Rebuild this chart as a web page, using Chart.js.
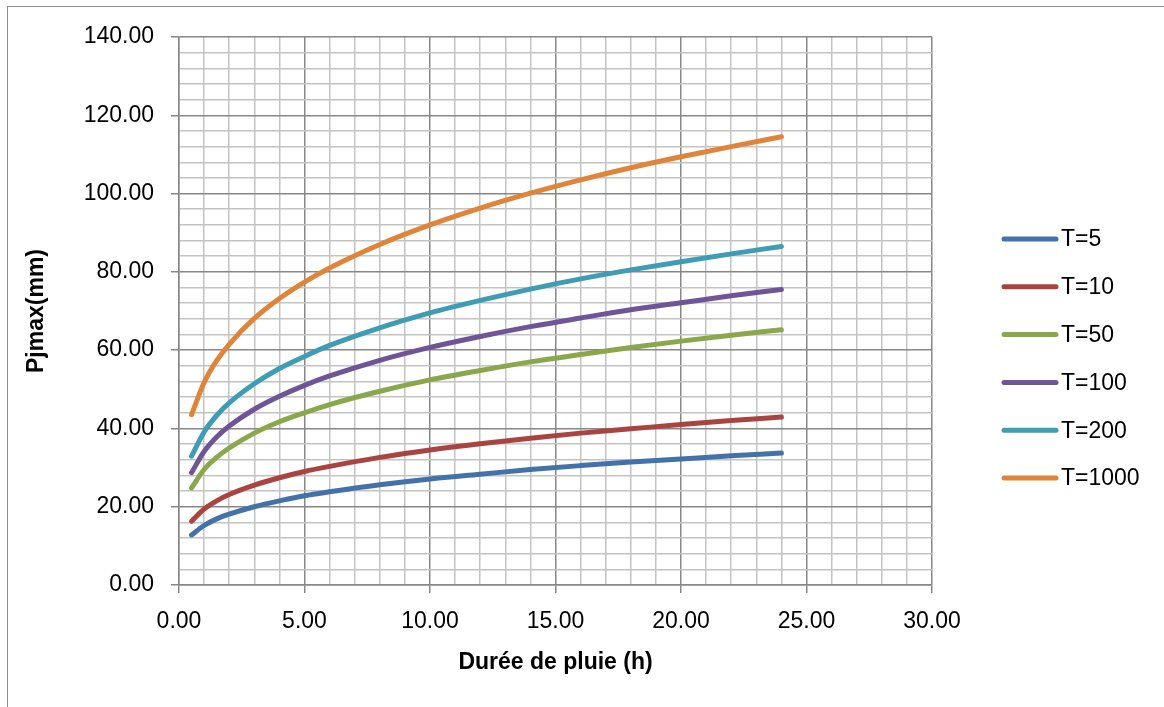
<!DOCTYPE html>
<html lang="fr">
<head>
<meta charset="utf-8" />
<title>Pjmax en fonction de la durée de pluie</title>
<script src="https://cdn.jsdelivr.net/npm/chart.js@4.4.1/dist/chart.umd.min.js"></script>
<style>
  html, body { margin: 0; padding: 0; background: #fff; overflow: hidden; }
  #wrap { position: relative; width: 1164px; height: 707px; }
</style>
</head>
<body>
<div id="wrap"><canvas id="c"></canvas></div>
<script>
// durées (h) et pluies journalières maximales (mm) par période de retour
const durees = [0.5, 1, 1.5, 2, 3, 4, 5, 6, 8, 10, 12, 14, 16, 18, 20, 22, 24];
const pT5    = [12.8, 15.2, 16.9, 18.1, 20.0, 21.5, 22.8, 23.8, 25.6, 27.1, 28.3, 29.5, 30.5, 31.4, 32.2, 33.0, 33.7];
const pT10   = [16.3, 19.4, 21.5, 23.1, 25.5, 27.4, 29.0, 30.3, 32.6, 34.5, 36.1, 37.5, 38.8, 39.9, 41.0, 42.0, 42.9];
const pT50   = [24.8, 29.5, 32.6, 35.0, 38.8, 41.7, 44.0, 46.1, 49.5, 52.4, 54.8, 57.0, 58.9, 60.7, 62.3, 63.8, 65.2];
const pT100  = [28.7, 34.1, 37.8, 40.6, 44.9, 48.2, 51.0, 53.4, 57.4, 60.7, 63.5, 66.0, 68.2, 70.3, 72.1, 73.9, 75.5];
const pT200  = [32.9, 39.1, 43.3, 46.5, 51.4, 55.3, 58.4, 61.2, 65.7, 69.5, 72.7, 75.6, 78.2, 80.5, 82.6, 84.6, 86.5];
const pT1000 = [43.5, 51.7, 57.3, 61.5, 68.1, 73.2, 77.4, 81.0, 87.0, 92.0, 96.3, 100.1, 103.5, 106.6, 109.4, 112.0, 114.5];

const series = [
  { label: 'T=5', data: pT5, color: '#4371a9' },
  { label: 'T=10', data: pT10, color: '#aa4441' },
  { label: 'T=50', data: pT50, color: '#8aa84b' },
  { label: 'T=100', data: pT100, color: '#6f5597' },
  { label: 'T=200', data: pT200, color: '#3f9cb5' },
  { label: 'T=1000', data: pT1000, color: '#e0843a' },
];

const FONT = "'Liberation Sans', Arial, sans-serif";
const MAJOR = '#878787';
const MINOR = '#c3c3c3';

// cadre extérieur + légende dessinée à droite
const cadre = {
  id: 'cadre',
  beforeDraw(chart) {
    const ctx = chart.ctx;
    ctx.save();
    ctx.strokeStyle = '#8c8c8c';
    ctx.lineWidth = 1;
    ctx.strokeRect(7.5, 6.5, 1300, 900);
    ctx.restore();
  },
  afterDraw(chart) {
    const ctx = chart.ctx;
    ctx.save();
    ctx.font = '23px ' + FONT;
    ctx.textBaseline = 'middle';
    ctx.fillStyle = '#000';
    chart.data.datasets.forEach((ds, i) => {
      const y = 239 + i * 47.8;
      ctx.strokeStyle = ds.borderColor;
      ctx.lineWidth = 5;
      ctx.lineCap = 'round';
      ctx.beginPath();
      ctx.moveTo(1004, y);
      ctx.lineTo(1056, y);
      ctx.stroke();
      ctx.fillText(ds.label, 1061, y + 1);
    });
    ctx.restore();
  }
};

const isMajor = (v, step) => Math.abs(v / step - Math.round(v / step)) < 1e-6;

new Chart(document.getElementById('c'), {
  type: 'line',
  data: {
    datasets: series.map(s => ({
      label: s.label,
      data: durees.map((d, i) => ({ x: d, y: s.data[i] })),
      borderColor: s.color,
      backgroundColor: s.color,
      borderWidth: 5,
      borderCapStyle: 'round',
      borderJoinStyle: 'round',
      pointRadius: 0,
      cubicInterpolationMode: 'monotone',
      fill: false,
    }))
  },
  options: {
    responsive: true,
    maintainAspectRatio: false,
    animation: false,
    layout: { padding: { left: 0, right: 232, top: 37, bottom: 0 } },
    plugins: { legend: { display: false }, tooltip: { enabled: false } },
    scales: {
      x: {
        type: 'linear',
        min: 0, max: 30,
        afterFit(scale) { scale.height = 122; },
        border: { color: MAJOR, width: 1.5 },
        grid: {
          color: ctx => isMajor(ctx.tick.value, 5) ? MAJOR : MINOR,
          lineWidth: 1.5,
          tickLength: 8,
          tickColor: ctx => isMajor(ctx.tick.value, 5) ? MAJOR : 'rgba(0,0,0,0)',
        },
        ticks: {
          stepSize: 1,
          autoSkip: false,
          maxRotation: 0,
          padding: 15,
          color: '#000',
          font: { family: FONT, size: 23 },
          callback: v => isMajor(v, 5) ? v.toFixed(2) : '',
        },
        title: {
          display: true,
          text: 'Durée de pluie (h)',
          color: '#000',
          font: { family: FONT, size: 23, weight: 'bold' },
          padding: { top: 0, bottom: 31 },
        },
      },
      y: {
        min: 0, max: 140,
        afterFit(scale) { scale.width = 179; },
        border: { color: MAJOR, width: 1.5 },
        grid: {
          color: ctx => isMajor(ctx.tick.value, 20) ? MAJOR : MINOR,
          lineWidth: 1.5,
          tickLength: 8,
          tickColor: ctx => isMajor(ctx.tick.value, 20) ? MAJOR : 'rgba(0,0,0,0)',
        },
        ticks: {
          stepSize: 4,
          autoSkip: false,
          padding: 17,
          color: '#000',
          font: { family: FONT, size: 23 },
          callback: v => isMajor(v, 20) ? v.toFixed(2) : '',
        },
        title: {
          display: true,
          text: 'Pjmax(mm)',
          color: '#000',
          font: { family: FONT, size: 23, weight: 'bold' },
          padding: { top: 23, bottom: 0 },
        },
      },
    },
  },
  plugins: [cadre],
});
</script>
</body>
</html>
